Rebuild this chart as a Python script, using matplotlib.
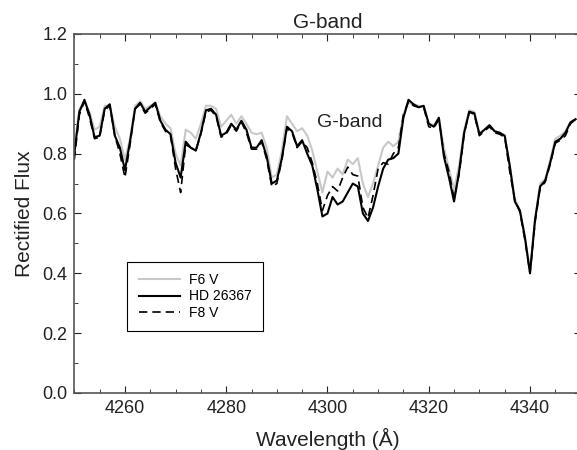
import numpy as np
import matplotlib.pyplot as plt
from matplotlib.ticker import MultipleLocator

plt.rcParams['font.family'] = ['Liberation Sans', 'DejaVu Sans']

# wavelength grid (Angstrom)
wave = np.arange(4250, 4350, 1)

# F6 V
f6v = [0.82, 0.95, 0.97, 0.94, 0.88, 0.89, 0.96, 0.96, 0.89, 0.85,
       0.78, 0.85, 0.96, 0.975, 0.95, 0.96, 0.97, 0.925, 0.90, 0.885,
       0.80, 0.76, 0.88, 0.87, 0.85, 0.90, 0.96, 0.96, 0.95, 0.89,
       0.91, 0.93, 0.90, 0.925, 0.90, 0.87, 0.865, 0.87, 0.82, 0.72,
       0.73, 0.81, 0.925, 0.90, 0.875, 0.885, 0.86, 0.81, 0.74, 0.67,
       0.74, 0.72, 0.75, 0.73, 0.78, 0.765, 0.785, 0.70, 0.655, 0.70,
       0.76, 0.82, 0.84, 0.825, 0.84, 0.93, 0.97, 0.965, 0.96, 0.955,
       0.90, 0.895, 0.92, 0.82, 0.75, 0.68, 0.76, 0.88, 0.945, 0.94,
       0.87, 0.88, 0.895, 0.875, 0.87, 0.86, 0.76, 0.65, 0.61, 0.52,
       0.41, 0.58, 0.70, 0.715, 0.78, 0.85, 0.86, 0.875, 0.905, 0.915]

# HD 26367
hd26367 = [0.80, 0.94, 0.98, 0.93, 0.855, 0.86, 0.95, 0.965, 0.86, 0.82,
           0.745, 0.84, 0.95, 0.97, 0.94, 0.955, 0.97, 0.91, 0.88, 0.865,
           0.77, 0.72, 0.84, 0.82, 0.81, 0.87, 0.945, 0.95, 0.93, 0.86,
           0.87, 0.90, 0.88, 0.91, 0.88, 0.82, 0.82, 0.845, 0.79, 0.70,
           0.71, 0.785, 0.89, 0.875, 0.825, 0.845, 0.80, 0.76, 0.68, 0.59,
           0.60, 0.655, 0.63, 0.64, 0.67, 0.70, 0.69, 0.60, 0.575, 0.62,
           0.69, 0.75, 0.78, 0.785, 0.80, 0.92, 0.98, 0.965, 0.955, 0.96,
           0.90, 0.89, 0.92, 0.79, 0.72, 0.64, 0.74, 0.87, 0.94, 0.935,
           0.865, 0.88, 0.895, 0.875, 0.87, 0.86, 0.76, 0.64, 0.61, 0.52,
           0.40, 0.58, 0.69, 0.71, 0.77, 0.84, 0.85, 0.87, 0.905, 0.915]

# F8 V
f8v = [0.78, 0.93, 0.975, 0.92, 0.85, 0.855, 0.945, 0.96, 0.86, 0.80,
       0.72, 0.83, 0.95, 0.965, 0.935, 0.95, 0.965, 0.905, 0.875, 0.86,
       0.75, 0.67, 0.83, 0.82, 0.81, 0.865, 0.94, 0.945, 0.925, 0.855,
       0.865, 0.895, 0.875, 0.905, 0.87, 0.815, 0.815, 0.84, 0.78, 0.69,
       0.70, 0.78, 0.885, 0.87, 0.82, 0.84, 0.82, 0.77, 0.70, 0.61,
       0.66, 0.69, 0.675, 0.72, 0.755, 0.73, 0.725, 0.62, 0.585, 0.66,
       0.75, 0.77, 0.765, 0.80, 0.82, 0.93, 0.975, 0.96, 0.955, 0.955,
       0.89, 0.885, 0.915, 0.80, 0.74, 0.65, 0.73, 0.865, 0.94, 0.93,
       0.86, 0.875, 0.89, 0.87, 0.865, 0.855, 0.74, 0.645, 0.605, 0.51,
       0.40, 0.57, 0.685, 0.705, 0.765, 0.835, 0.845, 0.86, 0.90, 0.915]

fig = plt.figure(figsize=(5.77, 4.5), dpi=100)
ax = fig.add_axes([0.1288, 0.1267, 0.8775, 0.7978])

ax.plot(wave, f6v, color='#c8c8c8', lw=1.5, label='F6 V')
ax.plot(wave, hd26367, color='black', lw=1.5, label='HD 26367')
ax.plot(wave, f8v, color='black', lw=1.2, ls=(0, (5, 3)), label='F8 V')

ax.set_xlim(4250, 4350)
ax.set_ylim(0, 1.2)
ax.xaxis.set_major_locator(MultipleLocator(20))
ax.xaxis.set_minor_locator(MultipleLocator(5))
ax.yaxis.set_major_locator(MultipleLocator(0.2))
ax.yaxis.set_minor_locator(MultipleLocator(0.1))
ax.yaxis.set_major_formatter(plt.FormatStrFormatter('%.1f'))
ax.tick_params(which='both', direction='in', top=True, right=True,
               labelsize=13, colors='#222222')
ax.tick_params(which='major', length=5, pad=5)
ax.tick_params(which='minor', length=3)
for s in ax.spines.values():
    s.set_color('#555555')
    s.set_linewidth(1.2)

ax.set_xlabel('Wavelength (Å)', fontsize=15, color='#222222', labelpad=8)
ax.set_ylabel('Rectified Flux', fontsize=15, color='#222222', labelpad=6)
ax.set_title('G-band', fontsize=15, color='#222222', pad=4)
ax.text(4298, 0.905, 'G-band', fontsize=14, color='#222222', va='center')

leg = ax.legend(loc='upper left', bbox_to_anchor=(0.105, 0.366),
                borderaxespad=0, fancybox=False, edgecolor='black',
                framealpha=1, fontsize=10, handlelength=3.0,
                handletextpad=0.65, labelspacing=0.2, borderpad=0.8)
leg.get_frame().set_linewidth(0.8)

fig.savefig('out.png', dpi=100)
